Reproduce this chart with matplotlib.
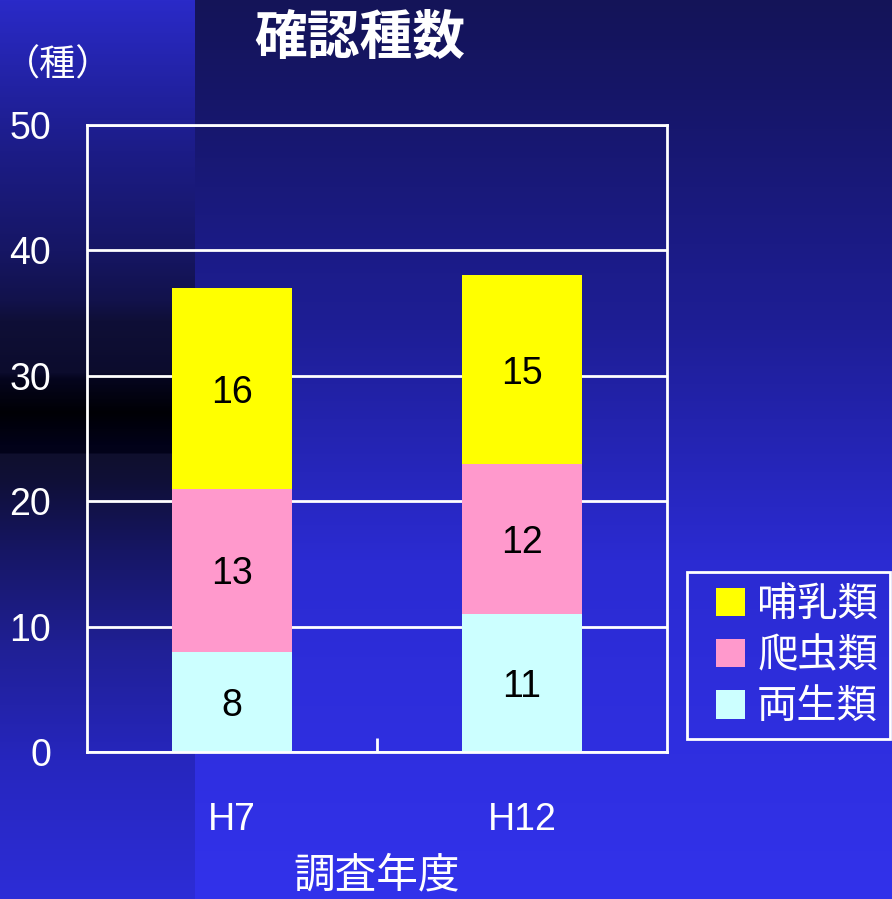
import matplotlib.pyplot as plt
import numpy as np
from matplotlib.patches import Patch, Rectangle
from matplotlib.legend_handler import HandlerPatch

plt.rcParams['font.family'] = ['Liberation Sans', 'Noto Sans CJK JP', 'DejaVu Sans']

years = ['H7', 'H12']
amphibians = [8, 11]    # 両生類
reptiles = [13, 12]     # 爬虫類
mammals = [16, 15]      # 哺乳類

colors = {'両生類': '#CCFFFF', '爬虫類': '#FF99CC', '哺乳類': '#FFFF00'}

W, H = 892, 899
fig = plt.figure(figsize=(W / 100, H / 100), dpi=100)

# background: blue vertical gradient with a darker band on the left strip
rows = np.arange(H)
main_y = [0, 100, 330, 560, 899]
main_c = np.array([(20, 20, 88), (22, 22, 105), (30, 30, 150),
                   (43, 43, 210), (50, 50, 235)])
strip_y = [0, 150, 250, 300, 320, 372, 378, 412, 445, 452, 454, 480, 550, 650, 760, 899]
strip_c = np.array([(42, 42, 200), (28, 28, 135), (22, 22, 100), (18, 18, 75),
                    (15, 15, 55), (12, 12, 45), (5, 5, 30), (0, 0, 5),
                    (2, 2, 25), (2, 2, 25), (15, 15, 45), (15, 15, 55),
                    (22, 22, 100), (32, 32, 150), (38, 38, 190), (45, 45, 215)])
img = np.zeros((H, W, 3))
for k in range(3):
    img[:, :, k] = np.interp(rows, main_y, main_c[:, k])[:, None]
    img[:, :195, k] = np.interp(rows, strip_y, strip_c[:, k])[:, None]
bg = fig.add_axes([0, 0, 1, 1], zorder=-1)
bg.imshow(img / 255, aspect='auto', extent=[0, 1, 0, 1])
bg.axis('off')

ax = fig.add_axes([87 / W, 1 - 752 / H, 580 / W, 627 / H])
ax.set_facecolor('none')

x = np.arange(len(years))
width = 0.415
bottom = np.zeros(len(years))
for name, vals in [('両生類', amphibians), ('爬虫類', reptiles), ('哺乳類', mammals)]:
    ax.bar(x, vals, width, bottom=bottom, color=colors[name], zorder=3, label=name)
    for xi, b, v in zip(x, bottom, vals):
        ax.annotate(str(v), (xi, b + v / 2), xytext=(0, -3), textcoords='offset points',
                    ha='center', va='center', fontsize=27, color='black', zorder=4)
    bottom = bottom + np.array(vals)

ax.set_xlim(-0.5, 1.5)
ax.set_ylim(0, 50)
ax.set_yticks(range(0, 51, 10))
ax.grid(axis='y', color='white', linewidth=2, zorder=1)
for s in ax.spines.values():
    s.set_color('white')
    s.set_linewidth(2)
    s.set_zorder(5)

ax.set_xticks(x)
ax.set_xticklabels(years)
ax.set_xticks([0.5], minor=True)
ax.tick_params(axis='x', which='major', length=0, pad=36, labelsize=27, labelcolor='white')
ax.tick_params(axis='x', which='minor', direction='in', length=10, width=2, color='white')
ax.tick_params(axis='y', length=0, pad=26, labelsize=27, labelcolor='white')

fig.text(360 / W, 1 - 38 / H, '確認種数', ha='center', va='center',
         fontsize=38, fontweight='bold', color='white', family=['Noto Sans CJK JP'])
fig.text(4 / W, 1 - 66 / H, '（種）', ha='left', va='center',
         fontsize=26, color='white', family=['Noto Sans CJK JP'])
fig.text(377 / W, 1 - 855 / H, '調査年度', ha='center', va='top',
         fontsize=30, color='white', family=['Noto Sans CJK JP'])


def square_right(legend, orig_handle, xdescent, ydescent, width, height, fontsize):
    # square swatch pushed to the right end of the handle box
    return Rectangle((-xdescent + width - height, -ydescent), height, height)


handles = [Patch(facecolor=colors[n], edgecolor='none') for n in ['哺乳類', '爬虫類', '両生類']]
leg = fig.legend(handles, ['哺乳類', '爬虫類', '両生類'], loc='upper left',
                 bbox_to_anchor=(687 / W, 1 - 572 / H), frameon=True, fancybox=False,
                 framealpha=1, prop={'family': 'Noto Sans CJK JP', 'size': 29},
                 handler_map={Patch: HandlerPatch(patch_func=square_right)},
                 handlelength=1.14, handleheight=0.72, handletextpad=0.3,
                 labelspacing=0.25, borderpad=0.3, borderaxespad=0)
leg.get_frame().set_facecolor('none')
leg.get_frame().set_edgecolor('white')
leg.get_frame().set_linewidth(2)
for t in leg.get_texts():
    t.set_color('white')

fig.savefig('out.png', dpi=100)
